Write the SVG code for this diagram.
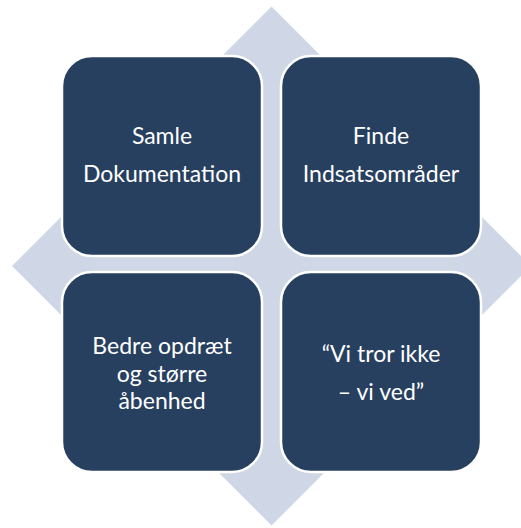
<svg xmlns="http://www.w3.org/2000/svg" width="521" height="528" viewBox="0 0 521 528">
<style>
.box{fill:#27405F;stroke:#FFFFFF;stroke-width:2.5}
.t{font-family:Lato,"Liberation Sans",sans-serif;font-size:23px;fill:#FFFFFF;text-anchor:middle}
</style>
<rect width="521" height="528" fill="#FFFFFF"/>
<g id="diamond">
<polygon points="271.5,6.5 531,266 271.5,525.5 12,266" fill="#CFD7E6"/>
</g>
<g id="connectors"></g>
<g id="node-samle">
<rect class="box" x="62" y="56" width="200" height="200" rx="30"/>
<text class="t" x="162" y="144">Samle</text>
<text class="t" x="162" y="181.5">Dokumentation</text>
</g>
<g id="node-finde">
<rect class="box" x="281" y="56" width="200" height="200" rx="30"/>
<text class="t" x="381" y="144">Finde</text>
<text class="t" x="381" y="181.5">Indsatsområder</text>
</g>
<g id="node-bedre">
<rect class="box" x="62" y="272" width="200" height="200" rx="30"/>
<text class="t" x="162" y="354">Bedre opdræt</text>
<text class="t" x="162" y="381.5">og større</text>
<text class="t" x="162" y="409">åbenhed</text>
</g>
<g id="node-vi">
<rect class="box" x="281" y="272" width="200" height="200" rx="30"/>
<text class="t" x="381" y="362">“Vi tror ikke</text>
<text class="t" x="381" y="400">– vi ved”</text>
</g>
</svg>
